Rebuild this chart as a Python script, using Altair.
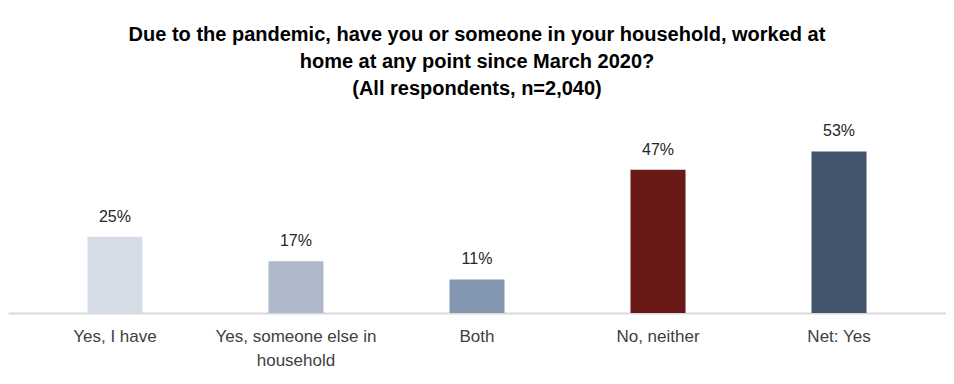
import altair as alt
import pandas as pd

categories = ["Yes, I have", "Yes, someone else in household", "Both", "No, neither", "Net: Yes"]
values = [25, 17, 11, 47, 53]
labels = ["25%", "17%", "11%", "47%", "53%"]
colors = ["#d6dce5", "#adb9ca", "#8497b0", "#681916", "#44546a"]

df = pd.DataFrame({"cat": categories, "val": values, "lab": labels})

x = alt.X(
    "cat:N",
    sort=categories,
    title=None,
    scale=alt.Scale(paddingInner=0.696, paddingOuter=0.439),
    axis=alt.Axis(
        labelAngle=0,
        ticks=False,
        domainColor="#d9d9d9",
        domainWidth=2,
        labelFont="Liberation Sans",
        labelFontSize=17,
        labelColor="#404040",
        labelPadding=15,
        labelLineHeight=24,
        labelLimit=300,
        labelExpr="datum.label == 'Yes, someone else in household' ? ['Yes, someone else in', 'household'] : datum.label",
    ),
)
y = alt.Y("val:Q", scale=alt.Scale(domain=[0, 62]), axis=None)

bars = alt.Chart(df).mark_bar().encode(
    x=x,
    y=y,
    color=alt.Color("cat:N", scale=alt.Scale(domain=categories, range=colors), legend=None),
)
text = alt.Chart(df).mark_text(
    baseline="bottom", dy=-12, font="Liberation Sans", fontSize=16, color="#262626"
).encode(x=x, y=y, text="lab:N")

chart = (
    alt.layer(bars, text)
    .properties(
        width=938,
        height=189,
        padding={"left": 0, "right": 0, "top": 17, "bottom": 0},
        title=alt.TitleParams(
            text=[
                "Due to the pandemic, have you or someone in your household, worked at",
                "home at any point since March 2020?",
                "(All respondents, n=2,040)",
            ],
            font="Liberation Sans",
            fontSize=20,
            fontWeight="bold",
            color="#000000",
            lineHeight=27,
            anchor="middle",
            offset=24,
        ),
    )
    .configure_view(stroke=None)
)

chart.save("out.html", embed_options={"renderer": "svg", "actions": False})
